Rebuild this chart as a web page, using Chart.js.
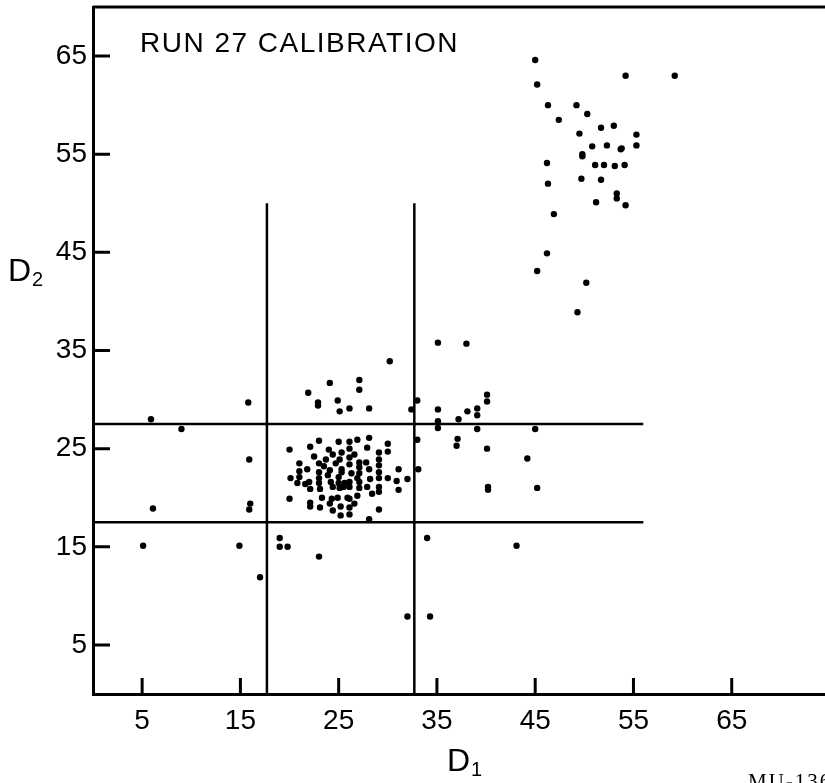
<!DOCTYPE html>
<html>
<head>
<meta charset="utf-8">
<script src="https://cdn.jsdelivr.net/npm/chart.js@4"></script>
<style>
  html, body { margin: 0; padding: 0; background: #fff; }
  body { width: 825px; height: 783px; overflow: hidden; position: relative; font-family: "Liberation Sans", Arial, sans-serif; }
  #plot { position: absolute; left: 0; top: 0; }
  .lbl { position: absolute; color: #000; white-space: nowrap; }
  .title { left: 140px; top: 29px; font-size: 28px; line-height: 28px; letter-spacing: 1.5px; }
  .axis { font-size: 32px; line-height: 32px; }
  .axis sub { font-size: 20px; vertical-align: -5px; margin-left: 1px; }
  .note { left: 748px; top: 769px; font-family: "Liberation Serif", serif; font-size: 21px; letter-spacing: 2px; }
</style>
</head>
<body>
<canvas id="plot" width="835" height="783"></canvas>
<div class="lbl title">RUN 27 CALIBRATION</div>
<div class="lbl axis" style="left:8px; top:254px;">D<sub>2</sub></div>
<div class="lbl axis" style="left:447px; top:744px;">D<sub>1</sub></div>
<div class="lbl note">MU-136</div>

<script>
// tick positions on both axes
const d1Ticks = [5, 15, 25, 35, 45, 55, 65];
const d2Ticks = [5, 15, 25, 35, 45, 55, 65];

// cut positions (D1 window and D2 window)
const d1Cuts = [17.7, 32.7];
const d2Cuts = [17.5, 27.5];
const d1CutTop = 50;
const d2CutEnd = 56;

// events inside the D1/D2 window, [D1, D2]
const centralEvents = [
  [28.1, 26.1], [26.9, 25.9], [26.1, 25.7], [25.0, 25.7], [23.0, 25.8], [30.0, 25.5],
  [30.0, 24.7], [27.9, 25.1], [26.1, 25.0], [25.3, 24.6], [22.1, 25.2], [20.0, 24.9],
  [24.0, 24.9], [24.4, 24.4], [26.6, 24.4], [29.1, 24.6], [29.1, 23.9], [29.1, 23.3],
  [29.1, 22.6], [29.1, 22.0], [22.5, 24.2], [23.7, 23.9], [25.1, 23.9], [26.1, 24.1],
  [27.1, 23.6], [27.8, 23.6], [27.1, 23.1], [26.1, 23.4], [24.7, 23.5], [23.0, 23.5],
  [21.0, 23.5], [21.8, 22.9], [21.0, 22.7], [24.1, 22.8], [25.3, 22.9], [25.3, 22.6],
  [26.3, 22.5], [27.1, 22.5], [28.1, 22.9], [31.1, 22.9], [23.0, 22.6], [23.9, 22.3],
  [25.0, 22.1], [20.1, 22.0], [21.0, 22.1], [23.0, 22.0], [26.9, 22.0], [28.2, 21.9],
  [30.0, 22.0], [30.9, 21.7], [32.0, 21.9], [20.8, 21.5], [21.6, 21.4], [22.0, 21.6],
  [23.0, 21.5], [24.2, 21.6], [25.0, 21.5], [25.6, 21.5], [26.1, 21.6], [27.1, 21.6],
  [22.1, 20.9], [23.1, 20.9], [24.4, 21.1], [25.1, 21.0], [25.5, 21.1], [26.1, 21.1],
  [27.1, 21.0], [27.9, 21.1], [29.1, 21.1], [29.1, 20.6], [31.1, 20.8], [20.0, 19.9],
  [23.3, 20.0], [24.3, 19.9], [24.9, 20.0], [25.9, 20.0], [26.1, 19.9], [26.9, 20.2],
  [28.4, 20.4], [22.1, 19.5], [22.1, 19.1], [23.1, 19.0], [24.1, 19.4], [24.4, 18.7],
  [25.2, 19.1], [26.1, 19.0], [26.6, 19.4], [25.2, 18.2], [26.1, 18.3], [29.1, 18.8],
  [28.1, 17.8], [23.5, 23.2]
];

// high D1 / high D2 group
const upperEvents = [
  [45.0, 64.6], [45.2, 62.1], [46.3, 60.0], [49.2, 60.0], [50.3, 59.1], [47.4, 58.5],
  [49.5, 57.1], [51.7, 57.7], [53.0, 57.9], [50.8, 55.8], [52.3, 55.9], [53.8, 55.6],
  [53.7, 55.5], [55.3, 57.0], [55.3, 55.9], [49.8, 54.8], [49.8, 55.0], [46.2, 54.1],
  [51.1, 53.9], [52.0, 53.9], [53.1, 53.8], [54.1, 53.9], [46.3, 52.0], [49.7, 52.5],
  [51.7, 52.4], [53.3, 51.0], [53.3, 50.5], [54.2, 49.8], [51.2, 50.1], [46.9, 48.9],
  [46.2, 44.9], [45.2, 43.1], [50.2, 41.9], [49.3, 38.9], [54.2, 63.0], [59.2, 63.0]
];

// everything else
const otherEvents = [
  [21.9, 30.7], [22.9, 29.7], [22.9, 29.4], [24.1, 31.7], [24.9, 29.9], [25.1, 28.8],
  [26.1, 29.1], [27.1, 32.0], [27.1, 31.0], [28.1, 29.1], [30.2, 33.9], [32.4, 29.0],
  [33.0, 29.9], [35.1, 35.8], [38.0, 35.7], [35.1, 29.0], [35.1, 27.8], [35.1, 27.1],
  [37.2, 28.0], [38.1, 28.8], [39.1, 29.1], [39.1, 28.4], [40.1, 30.5], [40.1, 29.8],
  [39.1, 27.0], [45.0, 27.0], [33.0, 25.9], [37.1, 26.0], [37.0, 25.3], [40.1, 25.0],
  [44.2, 24.0], [33.1, 22.9], [40.2, 21.1], [40.2, 20.8], [45.2, 21.0], [34.0, 15.9],
  [43.1, 15.1], [32.0, 7.9], [34.3, 7.9], [15.8, 29.7], [5.9, 28.0], [9.0, 27.0],
  [15.9, 23.9], [6.1, 18.9], [16.0, 19.4], [15.9, 18.8], [5.1, 15.1], [14.9, 15.1],
  [17.0, 11.9], [19.0, 15.9], [19.0, 15.0], [19.8, 15.0], [23.0, 14.0]
];

const toPoints = list => list.map(p => ({ x: p[0], y: p[1] }));

const cutLines = [
  ...d2Cuts.map(v => [{ x: 0, y: v }, { x: d2CutEnd, y: v }]),
  ...d1Cuts.map(v => [{ x: v, y: 0 }, { x: v, y: d1CutTop }])
].map(pts => ({
  type: 'line',
  data: pts,
  borderColor: '#000',
  borderWidth: 2.5,
  pointRadius: 0,
  fill: false
}));

// tick marks pointing into the plot, plus the top edge of the frame
const innerTicks = {
  id: 'innerTicks',
  afterDraw(chart) {
    const { ctx, chartArea, scales } = chart;
    ctx.save();
    ctx.strokeStyle = '#000';
    ctx.lineWidth = 3;
    ctx.lineCap = 'butt';
    ctx.beginPath();
    scales.x.ticks.forEach(t => {
      const px = scales.x.getPixelForValue(t.value);
      ctx.moveTo(px, chartArea.bottom);
      ctx.lineTo(px, chartArea.bottom - 16);
    });
    scales.y.ticks.forEach(t => {
      const py = scales.y.getPixelForValue(t.value);
      ctx.moveTo(chartArea.left, py);
      ctx.lineTo(chartArea.left + 17, py);
    });
    ctx.stroke();
    ctx.beginPath();
    ctx.moveTo(chartArea.left, chartArea.top);
    ctx.lineTo(chartArea.right, chartArea.top);
    ctx.stroke();
    ctx.restore();
  }
};

const dotStyle = {
  pointRadius: 3.2,
  pointBackgroundColor: '#000',
  pointBorderWidth: 0,
  showLine: false
};

// fixed axis boxes so the plot area sits where it should
function fitBox(size) {
  return function (scale) {
    if (scale.isHorizontal()) scale.height = size;
    else scale.width = size;
    scale.paddingTop = 0;
    scale.paddingBottom = 0;
    scale.paddingLeft = 0;
    scale.paddingRight = 0;
  };
}

new Chart(document.getElementById('plot').getContext('2d'), {
  type: 'scatter',
  data: {
    datasets: [
      { data: toPoints(centralEvents), ...dotStyle },
      { data: toPoints(upperEvents), ...dotStyle },
      { data: toPoints(otherEvents), ...dotStyle },
      ...cutLines
    ]
  },
  options: {
    responsive: false,
    animation: false,
    devicePixelRatio: 1,
    layout: { padding: { top: 7, right: 5, left: 0, bottom: 0 } },
    plugins: { legend: { display: false }, tooltip: { enabled: false } },
    scales: {
      x: {
        type: 'linear',
        min: 0,
        max: 75,
        afterFit: fitBox(89),
        afterBuildTicks(scale) { scale.ticks = d1Ticks.map(v => ({ value: v })); },
        grid: { display: true, drawOnChartArea: false, drawTicks: false },
        border: { display: true, color: '#000', width: 3 },
        ticks: {
          color: '#000',
          padding: 10,
          maxRotation: 0,
          autoSkip: false,
          font: { family: 'Liberation Sans', size: 28 }
        }
      },
      y: {
        type: 'linear',
        min: 0,
        max: 70,
        afterFit: fitBox(93),
        afterBuildTicks(scale) { scale.ticks = d2Ticks.map(v => ({ value: v })); },
        grid: { display: true, drawOnChartArea: false, drawTicks: false },
        border: { display: true, color: '#000', width: 3 },
        ticks: {
          color: '#000',
          padding: 6,
          autoSkip: false,
          font: { family: 'Liberation Sans', size: 28 }
        }
      }
    }
  },
  plugins: [innerTicks]
});
</script>
</body>
</html>
